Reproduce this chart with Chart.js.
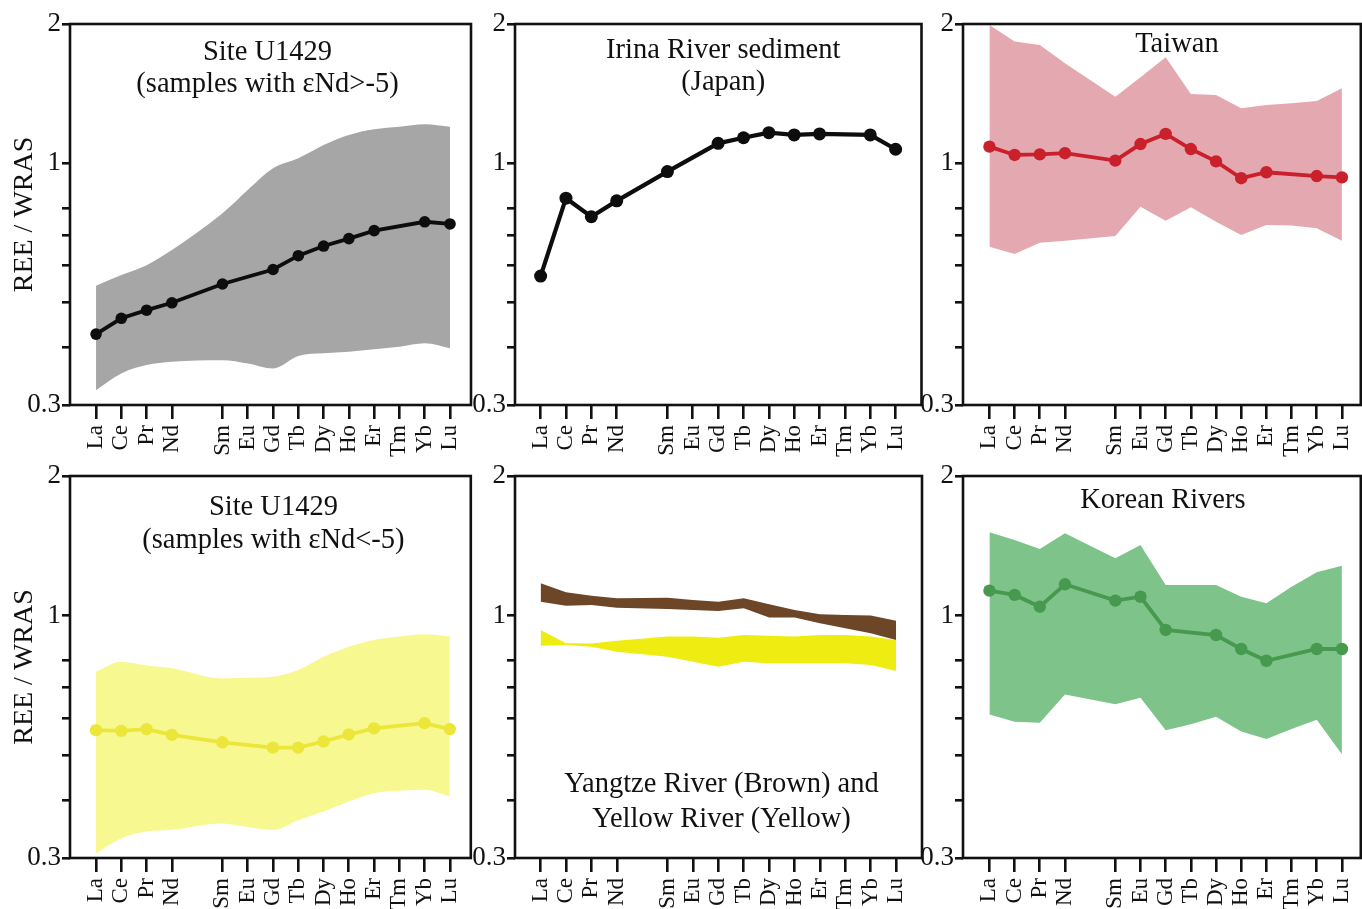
<!DOCTYPE html>
<html><head><meta charset="utf-8">
<script src="https://cdn.jsdelivr.net/npm/chart.js@4/dist/chart.umd.min.js"></script>
<style>
html,body{margin:0;padding:0;background:#fff;}
#wrap{position:relative;width:1362px;height:909px;overflow:hidden;background:#fff;}
canvas{position:absolute;}
</style></head><body><div id="wrap"></div>
<script>
// ---- categories / ticks ----
const elements = ['La','Ce','Pr','Nd','Pm','Sm','Eu','Gd','Tb','Dy','Ho','Er','Tm','Yb','Lu'];
const elementTicks = ['La','Ce','Pr','Nd','Sm','Eu','Gd','Tb','Dy','Ho','Er','Tm','Yb','Lu'];
const yTickValues = [0.3,0.4,0.5,0.6,0.7,0.8,1,2];
const yTickLabels = ['0.3','','','','','','1','2'];

// ---- Site U1429 (eNd > -5) ----
const u1429HighMean  = [0.427,0.462,0.481,0.499,null,0.548,null,0.589,0.631,0.662,0.687,0.715,null,0.747,0.739];
const u1429HighUpper = [0.543,0.573,0.602,0.649,null,0.779,0.875,0.975,1.025,1.095,1.151,1.184,1.199,1.214,1.199];
const u1429HighLower = [0.323,0.351,0.366,0.372,null,0.375,0.369,0.360,0.383,0.388,0.391,0.396,0.401,0.408,0.398];
// ---- Irina River ----
const irinaMean = [0.570,0.840,0.766,0.829,null,0.959,null,1.104,1.135,1.164,1.151,1.157,null,1.151,1.072];
// ---- Taiwan ----
const taiwanMean  = [1.086,1.042,1.045,1.051,null,1.013,1.100,1.157,1.073,1.009,0.928,0.956,null,0.938,0.932];
const taiwanUpper = [1.990,1.832,1.801,1.645,null,1.393,1.534,1.694,1.411,1.405,1.315,1.337,1.348,1.363,1.452];
const taiwanLower = [0.660,0.636,0.673,0.680,null,0.696,0.805,0.751,0.803,0.747,0.699,0.735,0.733,0.723,0.680];
// ---- Site U1429 (eNd < -5) ----
const u1429LowMean  = [0.566,0.564,0.569,0.553,null,0.533,null,0.519,0.519,0.535,0.554,0.571,null,0.586,0.569];
const u1429LowUpper = [0.757,0.795,0.780,0.770,null,0.732,0.734,0.738,0.763,0.815,0.857,0.886,0.901,0.911,0.901];
const u1429LowLower = [0.307,0.331,0.342,0.345,null,0.356,0.350,0.345,0.362,0.378,0.397,0.414,0.419,0.421,0.407];
// ---- Yangtze / Yellow River ----
const yangtzeUpper = [1.174,1.123,1.104,1.090,null,1.093,1.081,1.071,1.090,1.058,1.028,1.006,1.003,1.000,0.975];
const yangtzeLower = [1.071,1.050,1.054,1.040,null,1.033,1.028,1.023,1.037,0.991,0.991,0.962,0.939,0.916,0.886];
const yellowUpper  = [0.931,0.872,0.871,0.883,null,0.901,0.901,0.896,0.908,0.905,0.901,0.908,0.908,0.901,0.886];
const yellowLower  = [0.861,0.864,0.857,0.836,null,0.815,0.795,0.776,0.795,0.789,0.789,0.789,0.789,0.782,0.759];
// ---- Korean Rivers ----
const koreaMean  = [1.132,1.108,1.045,1.168,null,1.077,1.098,0.931,null,0.908,0.847,0.799,null,0.847,0.847];
const koreaUpper = [1.512,1.455,1.392,1.505,null,1.329,1.420,1.164,1.164,1.164,1.098,1.063,1.154,1.240,1.281];
const koreaLower = [0.612,0.590,0.587,0.676,null,0.644,0.665,0.566,0.583,0.605,0.562,0.542,0.569,0.596,0.502];

const FONT = "'Liberation Serif','Times New Roman',serif";
const INK = '#111';

function pts(vals){ return vals.map((v,i)=>({x:i,y:v})).filter(p=>p.y!==null); }
function meanDs(vals,color,r,w){
  return {data:pts(vals),borderColor:color,backgroundColor:color,borderWidth:w||3.5,
    pointRadius:r||6,pointBackgroundColor:color,pointBorderWidth:0,pointHoverRadius:r||6,tension:0,fill:false,order:0};
}
function bandDs(upper,lower,color,smooth,order){
  const base = {borderWidth:0,pointRadius:0,pointHoverRadius:0,backgroundColor:color,borderColor:color,
    cubicInterpolationMode: smooth?'monotone':'default', tension:0};
  return [Object.assign({},base,{data:pts(upper),fill:'+1',order:order}),
          Object.assign({},base,{data:pts(lower),fill:false,order:order})];
}

const boxPlugin = {
  id:'boxText',
  afterDraw(chart,args,opts){
    const {ctx,chartArea:a} = chart;
    ctx.save();
    ctx.strokeStyle = INK; ctx.lineWidth = 2.6;
    ctx.strokeRect(a.left,a.top,a.right-a.left,a.bottom-a.top);
    ctx.fillStyle = INK; ctx.textAlign='center'; ctx.textBaseline='alphabetic';
    ctx.font = '28.5px '+FONT;
    const cx = (a.left+a.right)/2;
    (opts.lines||[]).forEach(l=>{ ctx.fillText(l.text, cx + l.dx, a.top + l.y); });
    ctx.restore();
  }
};

const panels = [
  {l:70, t:24, r:471, b:405, yTitle:true, xmin:-1.03, xmax:14.83,
   datasets:[meanDs(u1429HighMean,'#0d0d0d',5.8,3.8), ...bandDs(u1429HighUpper,u1429HighLower,'#a6a6a6',true,1)],
   lines:[{text:'Site U1429',dx:-3,y:36},{text:'(samples with \u03b5Nd>-5)',dx:-3,y:68}]},
  {l:515, t:24, r:922, b:405, yTitle:false, xmin:-1.01, xmax:15.02,
   datasets:[meanDs(irinaMean,'#0d0d0d',6.5,4.2)],
   lines:[{text:'Irina River sediment',dx:5,y:34},{text:'(Japan)',dx:5,y:66}]},
  {l:963, t:24, r:1361, b:405, yTitle:false, xmin:-1.05, xmax:14.75,
   datasets:[meanDs(taiwanMean,'#c9202b',6.2,3.8), ...bandDs(taiwanUpper,taiwanLower,'#e4a8b0',false,1)],
   lines:[{text:'Taiwan',dx:15,y:28}]},
  {l:70, t:476, r:471, b:858, yTitle:true, xmin:-1.03, xmax:14.83,
   datasets:[meanDs(u1429LowMean,'#ece63a',6.2,3.8), ...bandDs(u1429LowUpper,u1429LowLower,'#f8f890',true,1)],
   lines:[{text:'Site U1429',dx:3,y:39},{text:'(samples with \u03b5Nd<-5)',dx:3,y:72}]},
  {l:515, t:476, r:922, b:858, yTitle:false, xmin:-1.01, xmax:15.02,
   datasets:[...bandDs(yangtzeUpper,yangtzeLower,'#6d4527',false,0), ...bandDs(yellowUpper,yellowLower,'#eeec10',false,1)],
   lines:[{text:'Yangtze River (Brown) and',dx:3,y:316},{text:'Yellow River (Yellow)',dx:3,y:351}]},
  {l:963, t:476, r:1361, b:858, yTitle:false, xmin:-1.05, xmax:14.75,
   datasets:[meanDs(koreaMean,'#47994f',6.2,3.8), ...bandDs(koreaUpper,koreaLower,'#7ec38a',false,1)],
   lines:[{text:'Korean Rivers',dx:1,y:32}]}
];

const wrap = document.getElementById('wrap');
const PAD_T = 20, PAD_R = 6, X_H = 55;
panels.forEach(p=>{
  const yW = p.yTitle ? 70 : 48;
  const cv = document.createElement('canvas');
  const W = yW + (p.r-p.l) + PAD_R, H = PAD_T + (p.b-p.t) + X_H;
  cv.width = W; cv.height = H;
  cv.style.left = (p.l - yW)+'px'; cv.style.top = (p.t - PAD_T)+'px';
  cv.style.width = W+'px'; cv.style.height = H+'px';
  wrap.appendChild(cv);
  new Chart(cv.getContext('2d'),{
    type:'line',
    data:{datasets:p.datasets},
    options:{
      responsive:false, animation:false, devicePixelRatio:1,
      layout:{padding:{left:0,top:PAD_T,right:PAD_R,bottom:0}},
      plugins:{legend:{display:false},tooltip:{enabled:false},boxText:{lines:p.lines}},
      scales:{
        x:{type:'linear',min:p.xmin,max:p.xmax,
          afterBuildTicks(s){ s.ticks = elementTicks.map(e=>({value:elements.indexOf(e)})); },
          afterFit(s){ s.height = X_H; s.paddingLeft = 0; s.paddingRight = 0; },
          border:{display:false},
          grid:{display:true,drawOnChartArea:false,drawTicks:true,tickLength:14,lineWidth:2.6,color:INK},
          ticks:{autoSkip:false,minRotation:90,maxRotation:90,padding:6,color:INK,
            font:{family:FONT,size:23},
            callback(v){ return elements[Math.round(v)]; }}
        },
        y:{type:'logarithmic',min:0.3,max:2,
          afterBuildTicks(s){ s.ticks = yTickValues.map(v=>({value:v})); },
          afterFit(s){ s.width = yW; s.paddingTop = 0; s.paddingBottom = 0; },
          border:{display:false},
          grid:{display:true,drawOnChartArea:false,drawTicks:true,tickLength:8,lineWidth:2.6,color:INK},
          ticks:{autoSkip:false,padding:1,color:INK,font:{family:FONT,size:27},
            callback(v){ const i = yTickValues.indexOf(v); return i>=0 ? yTickLabels[i] : ''; }},
          title:{display:p.yTitle,text:'REE / WRAS',color:INK,font:{family:FONT,size:28},padding:{top:8,bottom:0}}
        }
      }
    },
    plugins:[boxPlugin]
  });
});
</script>
</body></html>
